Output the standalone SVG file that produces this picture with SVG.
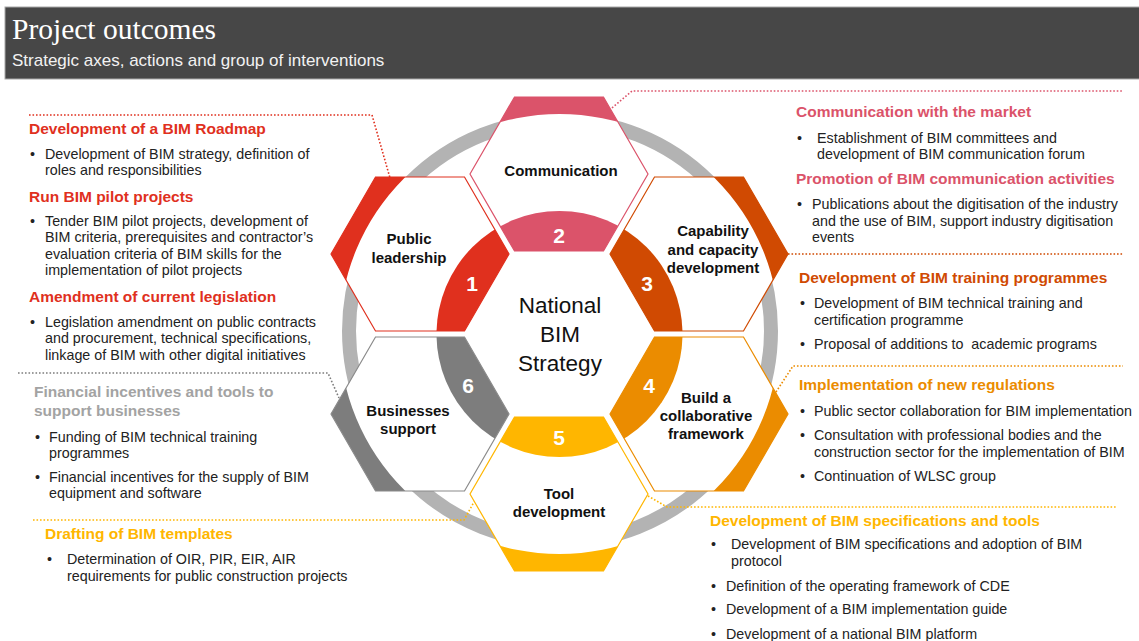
<svg xmlns="http://www.w3.org/2000/svg" width="1139" height="641" viewBox="0 0 1139 641">
<style>
.hdr{font-family:"Liberation Sans",Arial,sans-serif;font-weight:bold;font-size:15.5px}
.body{font-family:"Liberation Sans",Arial,sans-serif;font-size:14.3px;fill:#222}
.lbl{font-family:"Liberation Sans",Arial,sans-serif;font-weight:bold;font-size:15px;fill:#111;text-anchor:middle}
.num{font-family:"Liberation Sans",Arial,sans-serif;font-weight:bold;font-size:21px;fill:#fff;text-anchor:middle}
.ctr{font-family:"Liberation Sans",Arial,sans-serif;font-size:22.5px;fill:#111;text-anchor:middle}
.dot{fill:none;stroke-width:1.6;stroke-dasharray:1.6 1.9}
.hexo{fill:none;stroke-width:1.2}
.hexw{fill:#fff;stroke:none}
</style>
<defs>
<clipPath id="c1"><polygon points="331,254 375.5,177 464.5,177 509,254 464.5,331 375.5,331"/></clipPath>
<clipPath id="c2"><polygon points="470,174 514.5,97 603.5,97 648,174 603.5,251 514.5,251"/></clipPath>
<clipPath id="c3"><polygon points="610,254 654.5,177 743.5,177 788,254 743.5,331 654.5,331"/></clipPath>
<clipPath id="c4"><polygon points="610,414 654.5,337 743.5,337 788,414 743.5,491 654.5,491"/></clipPath>
<clipPath id="c5"><polygon points="470,494 514.5,417 603.5,417 648,494 603.5,571 514.5,571"/></clipPath>
<clipPath id="c6"><polygon points="331,414 375.5,337 464.5,337 509,414 464.5,491 375.5,491"/></clipPath>
<path id="outer" d="M250,40H870V640H250Z M779.5,334 A220,220 0 1,0 339.5,334 A220,220 0 1,0 779.5,334Z" fill-rule="evenodd"/>
</defs>

<g id="header">
<rect x="5" y="7" width="1140" height="72" fill="#474747" stroke="#a8a8a8" stroke-width="1"/>
<text x="12" y="39" font-family="'Liberation Serif','Times New Roman',serif" font-size="29.5" fill="#fff">Project outcomes</text>
<text x="12" y="66" font-family="'Liberation Sans',Arial,sans-serif" font-size="17" fill="#f2f2f2">Strategic axes, actions and group of interventions</text>
</g>

<g id="ring">
<circle cx="560" cy="331" r="211" fill="none" stroke="#b3b3b3" stroke-width="14"/>
</g>

<g id="connectors">
<polyline class="dot" stroke="#e0301e" points="29,115 372,115 390,178"/>
<polyline class="dot" stroke="#db536a" points="612,108 632,91 1123,91"/>
<polyline class="dot" stroke="#d04a02" points="788,254 1123,254"/>
<polyline class="dot" stroke="#eb8c00" points="776,392 793,366 1123,366"/>
<polyline class="dot" stroke="#ffb600" points="648,496 667,507 1117,507"/>
<polyline class="dot" stroke="#ffb600" points="33,520 464,520 474,502"/>
<polyline class="dot" stroke="#7d7d7d" points="18,373 328,373 339,398"/>
</g>

<g id="node-1">
<polygon class="hexw" points="331,254 375.5,177 464.5,177 509,254 464.5,331 375.5,331"/>
<g clip-path="url(#c1)" fill="#e0301e"><circle cx="559.5" cy="334" r="123"/><use href="#outer"/></g>
<polygon class="hexo" stroke="#e0301e" points="331,254 375.5,177 464.5,177 509,254 464.5,331 375.5,331"/>
<text class="num" x="472" y="291">1</text>
<text class="lbl" x="409" y="244">Public</text>
<text class="lbl" x="409" y="263">leadership</text>
</g>

<g id="node-2">
<polygon class="hexw" points="470,174 514.5,97 603.5,97 648,174 603.5,251 514.5,251"/>
<g clip-path="url(#c2)" fill="#db536a"><circle cx="559.5" cy="334" r="123"/><use href="#outer"/></g>
<polygon class="hexo" stroke="#db536a" points="470,174 514.5,97 603.5,97 648,174 603.5,251 514.5,251"/>
<text class="num" x="559" y="243">2</text>
<text class="lbl" x="561" y="176">Communication</text>
</g>

<g id="node-3">
<polygon class="hexw" points="610,254 654.5,177 743.5,177 788,254 743.5,331 654.5,331"/>
<g clip-path="url(#c3)" fill="#d04a02"><circle cx="559.5" cy="334" r="123"/><use href="#outer"/></g>
<polygon class="hexo" stroke="#d04a02" points="610,254 654.5,177 743.5,177 788,254 743.5,331 654.5,331"/>
<text class="num" x="647" y="291">3</text>
<text class="lbl" x="713" y="236">Capability</text>
<text class="lbl" x="713" y="255">and capacity</text>
<text class="lbl" x="713" y="273">development</text>
</g>

<g id="node-4">
<polygon class="hexw" points="610,414 654.5,337 743.5,337 788,414 743.5,491 654.5,491"/>
<g clip-path="url(#c4)" fill="#eb8c00"><circle cx="559.5" cy="334" r="123"/><use href="#outer"/></g>
<polygon class="hexo" stroke="#eb8c00" points="610,414 654.5,337 743.5,337 788,414 743.5,491 654.5,491"/>
<text class="num" x="649" y="393">4</text>
<text class="lbl" x="706" y="403">Build a</text>
<text class="lbl" x="706" y="421">collaborative</text>
<text class="lbl" x="706" y="439">framework</text>
</g>

<g id="node-5">
<polygon class="hexw" points="470,494 514.5,417 603.5,417 648,494 603.5,571 514.5,571"/>
<g clip-path="url(#c5)" fill="#ffb600"><circle cx="559.5" cy="334" r="123"/><use href="#outer"/></g>
<polygon class="hexo" stroke="#ffb600" points="470,494 514.5,417 603.5,417 648,494 603.5,571 514.5,571"/>
<text class="num" x="559" y="445">5</text>
<text class="lbl" x="559" y="499">Tool</text>
<text class="lbl" x="559" y="517">development</text>
</g>

<g id="node-6">
<polygon class="hexw" points="331,414 375.5,337 464.5,337 509,414 464.5,491 375.5,491"/>
<g clip-path="url(#c6)" fill="#7d7d7d"><circle cx="559.5" cy="334" r="123"/><use href="#outer"/></g>
<polygon class="hexo" stroke="#8a8a8a" points="331,414 375.5,337 464.5,337 509,414 464.5,491 375.5,491"/>
<text class="num" x="468" y="393">6</text>
<text class="lbl" x="408" y="416">Businesses</text>
<text class="lbl" x="408" y="434">support</text>
</g>

<g id="center">
<text class="ctr" x="560" y="313">National</text>
<text class="ctr" x="560" y="342">BIM</text>
<text class="ctr" x="560" y="371">Strategy</text>
</g>

<g id="text-left">
<text class="hdr" fill="#e0301e" x="29" y="134">Development of a BIM Roadmap</text>
<text class="body" x="30" y="159">•</text>
<text class="body" x="45" y="159">Development of BIM strategy, definition of</text>
<text class="body" x="45" y="175">roles and responsibilities</text>
<text class="hdr" fill="#e0301e" x="29" y="202">Run BIM pilot projects</text>
<text class="body" x="30" y="226">•</text>
<text class="body" x="45" y="226">Tender BIM pilot projects, development of</text>
<text class="body" x="45" y="242">BIM criteria, prerequisites and contractor’s</text>
<text class="body" x="45" y="259">evaluation criteria of BIM skills for the</text>
<text class="body" x="45" y="275">implementation of pilot projects</text>
<text class="hdr" fill="#e0301e" x="29" y="302">Amendment of current legislation</text>
<text class="body" x="30" y="327">•</text>
<text class="body" x="45" y="327">Legislation amendment on public contracts</text>
<text class="body" x="45" y="343">and procurement, technical specifications,</text>
<text class="body" x="45" y="360">linkage of BIM with other digital initiatives</text>
<text class="hdr" fill="#a3a3a3" x="34" y="397">Financial incentives and tools to</text>
<text class="hdr" fill="#a3a3a3" x="34" y="416">support businesses</text>
<text class="body" x="35" y="442">•</text>
<text class="body" x="49" y="442">Funding of BIM technical training</text>
<text class="body" x="49" y="458">programmes</text>
<text class="body" x="35" y="482">•</text>
<text class="body" x="49" y="482">Financial incentives for the supply of BIM</text>
<text class="body" x="49" y="498">equipment and software</text>
<text class="hdr" fill="#ffb600" x="45" y="539">Drafting of BIM templates</text>
<text class="body" x="47" y="564">•</text>
<text class="body" x="67" y="564">Determination of OIR, PIR, EIR, AIR</text>
<text class="body" x="67" y="581">requirements for public construction projects</text>
</g>

<g id="text-right">
<text class="hdr" fill="#db536a" x="796" y="117">Communication with the market</text>
<text class="body" x="797" y="143">•</text>
<text class="body" x="817" y="143">Establishment of BIM committees and</text>
<text class="body" x="817" y="159">development of BIM communication forum</text>
<text class="hdr" fill="#db536a" x="796" y="184">Promotion of BIM communication activities</text>
<text class="body" x="797" y="209">•</text>
<text class="body" x="812" y="209">Publications about the digitisation of the industry</text>
<text class="body" x="812" y="226">and the use of BIM, support industry digitisation</text>
<text class="body" x="812" y="242">events</text>
<text class="hdr" fill="#d04a02" x="799" y="283">Development of BIM training programmes</text>
<text class="body" x="800" y="308">•</text>
<text class="body" x="814" y="308">Development of BIM technical training and</text>
<text class="body" x="814" y="325">certification programme</text>
<text class="body" x="800" y="349">•</text>
<text class="body" x="814" y="349" style="white-space:pre">Proposal of additions to  academic programs</text>
<text class="hdr" fill="#eb8c00" x="799" y="390">Implementation of new regulations</text>
<text class="body" x="800" y="416">•</text>
<text class="body" x="814" y="416">Public sector collaboration for BIM implementation</text>
<text class="body" x="800" y="440">•</text>
<text class="body" x="814" y="440">Consultation with professional bodies and the</text>
<text class="body" x="814" y="457">construction sector for the implementation of BIM</text>
<text class="body" x="800" y="481">•</text>
<text class="body" x="814" y="481">Continuation of WLSC group</text>
<text class="hdr" fill="#ffb600" x="710" y="526">Development of BIM specifications and tools</text>
<text class="body" x="711" y="549">•</text>
<text class="body" x="731" y="549">Development of BIM specifications and adoption of BIM</text>
<text class="body" x="731" y="566">protocol</text>
<text class="body" x="711" y="591">•</text>
<text class="body" x="726" y="591">Definition of the operating framework of CDE</text>
<text class="body" x="711" y="614">•</text>
<text class="body" x="726" y="614">Development of a BIM implementation guide</text>
<text class="body" x="711" y="639">•</text>
<text class="body" x="726" y="639">Development of a national BIM platform</text>
</g>
</svg>
